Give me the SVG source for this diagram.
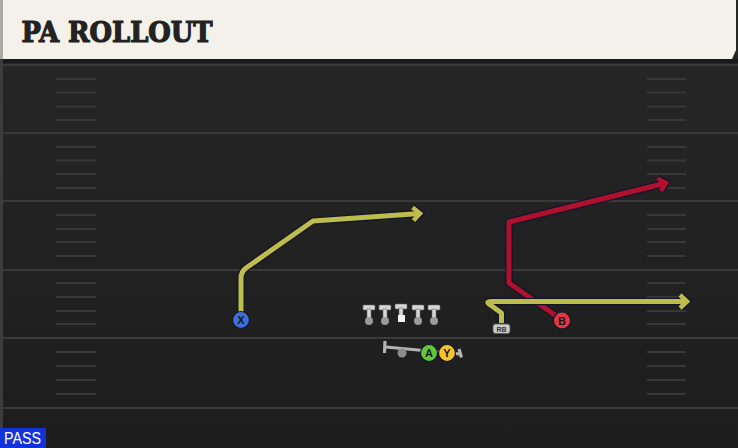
<svg xmlns="http://www.w3.org/2000/svg" width="738" height="448" viewBox="0 0 738 448">
<defs>
<linearGradient id="fieldGrad" x1="0" y1="0" x2="0" y2="1">
<stop offset="0" stop-color="#272727"/>
<stop offset="1" stop-color="#1d1d1d"/>
</linearGradient>
<marker id="arrOut" markerUnits="userSpaceOnUse" markerWidth="30" markerHeight="30" refX="0" refY="0" viewBox="-15 -15 30 30" orient="auto" overflow="visible">
<polyline points="-7,-6.5 0,0 -7,6.5" fill="none" stroke="#15152a" stroke-width="7.5" stroke-linejoin="miter" stroke-linecap="butt"/>
</marker>
<marker id="arrYel" markerUnits="userSpaceOnUse" markerWidth="30" markerHeight="30" refX="0" refY="0" viewBox="-15 -15 30 30" orient="auto" overflow="visible">
<polyline points="-7,-6.5 0,0 -7,6.5" fill="none" stroke="#bdbc4d" stroke-width="4.5" stroke-linejoin="miter" stroke-linecap="butt"/>
</marker>
<marker id="arrRed" markerUnits="userSpaceOnUse" markerWidth="30" markerHeight="30" refX="0" refY="0" viewBox="-15 -15 30 30" orient="auto" overflow="visible">
<polyline points="-7,-6.5 0,0 -7,6.5" fill="none" stroke="#b0112f" stroke-width="4.5" stroke-linejoin="miter" stroke-linecap="butt"/>
</marker>
</defs>
<style>
.yard{stroke:#3a3a3a;stroke-width:2}
.hash{stroke:#383838;stroke-width:2}
.out{fill:none;stroke:#15152a;stroke-width:7.5;stroke-linejoin:round;stroke-linecap:butt}
.yel{fill:none;stroke:#bdbc4d;stroke-width:5;stroke-linejoin:round;stroke-linecap:butt}
.red{fill:none;stroke:#b0112f;stroke-width:5;stroke-linejoin:round;stroke-linecap:butt}
.lbl{font-family:"Liberation Sans","DejaVu Sans",sans-serif;font-weight:bold;font-size:11px;fill:#151515;text-anchor:middle}
.ol{fill:#d6d6d6;stroke:#6a6a6a;stroke-width:0.6}
.olb{fill:#9a9a9a}
</style>

<!-- field -->
<rect x="0" y="0" width="738" height="448" fill="url(#fieldGrad)"/>
<rect x="0" y="59" width="738" height="4" fill="#1a1a1a"/>
<rect x="0" y="0" width="3" height="448" fill="#3c3c3c"/>
<g id="yardlines">
<line class="yard" x1="3" y1="65" x2="738" y2="65"/>
<line class="yard" x1="3" y1="133" x2="738" y2="133"/>
<line class="yard" x1="3" y1="201" x2="738" y2="201"/>
<line class="yard" x1="3" y1="270" x2="738" y2="270"/>
<line class="yard" x1="3" y1="338" x2="738" y2="338"/>
<line class="yard" x1="3" y1="408" x2="738" y2="408"/>
</g>
<g id="hashes">
<path class="hash" d="M56,79H96M56,92.5H96M56,106.5H96M56,120H96M56,147H96M56,160.5H96M56,174H96M56,188H96M56,215H96M56,229H96M56,242H96M56,256H96M56,283H96M56,297H96M56,311H96M56,324H96M56,352H96M56,366H96M56,380H96M56,394H96"/>
<path class="hash" d="M647,79H686M647,92.5H686M647,106.5H686M647,120H686M647,147H686M647,160.5H686M647,174H686M647,188H686M647,215H686M647,229H686M647,242H686M647,256H686M647,283H686M647,297H686M647,311H686M647,324H686M647,352H686M647,366H686M647,380H686M647,394H686"/>
</g>

<!-- header -->
<g id="header">
<polygon points="0,0 736,0 736,50 732,59 0,59" fill="#f4f1ea"/>
<rect x="0" y="0" width="3" height="59" fill="#a8a8a4"/>
<text x="21.5" y="42" font-family="'DejaVu Serif','Liberation Serif',serif" font-weight="bold" font-size="28" fill="#222222" stroke="#222222" stroke-width="1.2" stroke-linejoin="miter" textLength="191" lengthAdjust="spacingAndGlyphs">PA ROLLOUT</text>
</g>

<!-- connectors -->
<g id="connectors">
<g id="route-B">
<path class="out" d="M562,320 L509,283 L509,222 L666,183" marker-end="url(#arrOut)"/>
<path class="red" d="M562,320 L509,283 L509,222 L666,183" marker-end="url(#arrRed)"/>
</g>
<g id="route-X">
<path class="out" d="M241,320 L241,278 Q241,272 246,268 L313,221 L420,213.5" marker-end="url(#arrOut)"/>
<path class="yel" d="M241,320 L241,278 Q241,272 246,268 L313,221 L420,213.5" marker-end="url(#arrYel)"/>
</g>
<g id="route-RB">
<path class="out" d="M501.5,323 L501.5,313 L489,304 Q486,301.5 491,301.5 L687,301.5" marker-end="url(#arrOut)"/>
<path class="yel" d="M501.5,323 L501.5,313 L489,304 Q486,301.5 491,301.5 L687,301.5" marker-end="url(#arrYel)"/>
</g>
<g id="qb-path" stroke="#b4b4b4" stroke-width="3.2" fill="none">
<line x1="386" y1="347" x2="460" y2="354"/>
<line x1="385" y1="341" x2="384.5" y2="353"/>
<line x1="459" y1="349" x2="461.5" y2="357.5"/>
</g>
</g>

<!-- offensive line -->
<g id="oline">
<g id="LT"><rect class="ol" x="363" y="305" width="12" height="5" rx="1"/><rect class="ol" x="367" y="309" width="4" height="10"/><circle class="olb" cx="369" cy="321" r="4"/></g>
<g id="LG"><rect class="ol" x="379" y="305" width="12" height="5" rx="1"/><rect class="ol" x="383" y="309" width="4" height="10"/><circle class="olb" cx="385" cy="321" r="4"/></g>
<g id="C"><rect class="ol" x="395" y="304" width="12" height="5" rx="1"/><rect class="ol" x="399" y="308" width="4" height="8"/><rect x="398" y="315" width="7" height="7" fill="#f2f2f2"/></g>
<g id="RG"><rect class="ol" x="412" y="305" width="12" height="5" rx="1"/><rect class="ol" x="416" y="309" width="4" height="10"/><circle class="olb" cx="418" cy="321" r="4"/></g>
<g id="RT"><rect class="ol" x="428" y="305" width="12" height="5" rx="1"/><rect class="ol" x="432" y="309" width="4" height="10"/><circle class="olb" cx="434" cy="321" r="4"/></g>
</g>

<g id="QB"><circle cx="402" cy="353" r="4.5" fill="#8c8c8c"/></g>

<g id="RB">
<rect x="493" y="324" width="17" height="9.5" rx="2.5" fill="#c9c9c9" stroke="#5a5a5a" stroke-width="0.8"/>
<text x="501.5" y="331.8" font-family="'Liberation Sans','DejaVu Sans',sans-serif" font-weight="bold" font-size="7" fill="#333333" text-anchor="middle">RB</text>
</g>

<g id="X">
<circle cx="241" cy="320" r="8.5" fill="#3d6fd8" stroke="#15152a" stroke-width="1.2"/>
<text class="lbl" x="241" y="324">X</text>
</g>
<g id="B">
<circle cx="562" cy="320.5" r="8.5" fill="#e63646" stroke="#15152a" stroke-width="1.2"/>
<text class="lbl" x="562" y="324.5">B</text>
</g>
<g id="A">
<circle cx="429" cy="353" r="8.5" fill="#5fc93b" stroke="#15152a" stroke-width="1.2"/>
<text class="lbl" x="429" y="357">A</text>
</g>
<g id="Y">
<circle cx="447" cy="353" r="8.5" fill="#f2c12d" stroke="#15152a" stroke-width="1.2"/>
<text class="lbl" x="447" y="357">Y</text>
</g>

<g id="pass-tag">
<rect x="0" y="428" width="46" height="20" fill="#1232dc"/>
<text x="4" y="444" font-family="'Liberation Sans','DejaVu Sans',sans-serif" font-size="16" fill="#ffffff" textLength="37" lengthAdjust="spacingAndGlyphs">PASS</text>
</g>
</svg>
